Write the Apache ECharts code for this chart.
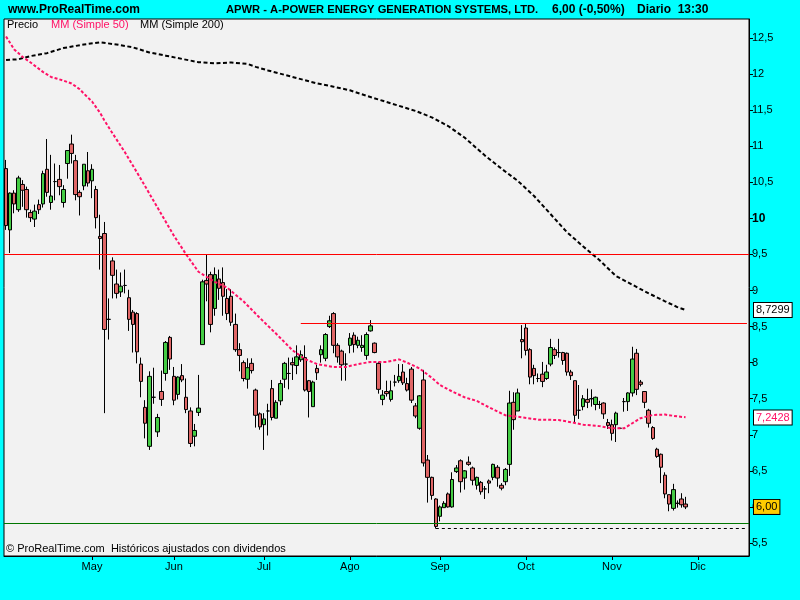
<!DOCTYPE html>
<html><head><meta charset="utf-8">
<script src="https://cdn.jsdelivr.net/npm/echarts@6/dist/echarts.min.js"></script>
<style>html,body{margin:0;padding:0;background:#00ffff;}#c{width:800px;height:600px;}</style>
</head><body><div id="c"></div>
<script>
// ---- data (daily candles, 2010-04-01 .. 2010-11-26) ----
const opens = [
10.69,9.84,10.35,10.12,10.47,10.40,10.08,9.99,10.19,10.20,
10.68,10.22,10.51,10.54,10.22,10.76,11.03,10.80,10.36,10.45,
10.66,10.52,10.40,9.75,9.79,8.60,9.41,9.09,8.98,9.07,
8.90,8.70,8.68,7.98,7.38,6.84,7.52,7.04,7.60,7.85,
8.35,7.81,7.56,7.82,7.52,7.33,6.98,7.31,8.25,9.14,
9.22,8.75,9.16,9.11,8.89,8.92,8.53,8.18,8.00,7.77,
7.99,7.62,7.29,7.14,7.33,7.64,7.23,7.47,7.77,7.85,
8.00,7.96,8.04,8.07,7.75,7.39,7.92,8.11,8.06,8.50,
8.68,8.24,8.16,7.98,8.24,8.38,8.24,8.21,8.10,8.44,
8.27,7.99,7.49,7.60,7.49,7.73,7.75,7.87,7.71,7.91,
7.40,7.09,7.76,6.65,6.41,6.11,5.87,5.99,6.18,6.00,
6.49,6.64,6.40,6.62,6.54,6.30,6.34,6.25,6.36,6.41,
6.55,6.30,6.35,6.59,7.45,7.33,8.32,8.48,8.18,7.92,
7.78,7.84,7.78,7.98,8.18,8.14,8.14,8.13,7.87,7.75,
7.34,7.39,7.49,7.50,7.42,7.42,7.44,7.17,7.14,7.14,
7.09,7.46,7.46,7.58,8.13,7.73,7.60,7.34,7.10,6.80,
6.73,6.44,6.17,5.98,6.05,6.11,6.04];
const closes = [
9.90,10.35,10.20,10.56,10.39,10.12,10.01,10.10,10.12,10.62,
10.36,10.31,10.51,10.44,10.40,10.94,10.90,10.33,10.30,10.75,
10.49,10.68,10.01,9.72,8.46,8.60,9.21,8.96,9.06,9.07,
8.60,8.53,8.15,7.74,7.16,7.81,7.52,7.24,7.49,8.28,
8.05,7.48,7.80,7.76,7.35,6.88,7.06,7.37,9.12,9.09,
8.53,9.22,9.03,8.92,8.68,8.56,8.18,8.10,7.78,7.93,
7.89,7.27,7.11,7.22,7.33,7.24,7.45,7.71,7.99,7.85,
7.97,8.08,8.11,7.62,7.60,7.73,7.86,8.18,8.39,8.58,
8.24,8.08,7.97,7.98,8.34,8.25,8.31,8.24,8.39,8.51,
8.14,7.63,7.55,7.57,7.61,7.73,7.81,7.72,7.62,7.48,
7.26,7.54,6.61,6.41,6.16,5.73,6.00,6.05,6.00,6.38,
6.54,6.35,6.50,6.59,6.37,6.41,6.21,6.25,6.33,6.59,
6.40,6.26,6.52,7.44,7.21,7.58,8.29,8.17,7.80,7.82,
7.78,7.74,7.87,8.21,8.10,8.14,8.03,7.87,7.82,7.27,
7.34,7.50,7.45,7.50,7.52,7.42,7.29,7.13,7.02,7.30,
7.09,7.46,7.58,8.05,7.63,7.70,7.45,7.16,6.95,6.70,
6.55,6.18,6.04,6.24,6.05,6.03,6.00];
const lows = [
9.84,9.52,10.07,10.09,10.16,10.01,9.95,9.88,10.06,10.15,
10.30,10.12,10.25,10.32,10.15,10.55,10.76,10.25,10.04,10.39,
10.44,10.28,9.86,9.29,7.30,8.32,8.89,8.89,8.91,8.96,
8.44,8.14,7.99,7.52,6.95,6.79,7.43,6.97,7.40,7.75,
7.90,7.41,7.49,7.73,7.30,6.83,6.84,7.26,8.25,8.85,
8.42,8.65,8.87,8.65,8.59,8.51,8.15,7.88,7.74,7.64,
7.85,7.10,7.07,6.79,6.99,7.20,7.23,7.41,7.65,7.63,
7.76,7.84,8.01,7.60,7.24,7.39,7.76,8.00,8.02,8.48,
8.13,8.00,7.75,7.75,8.13,8.14,8.20,8.15,8.04,8.43,
8.13,7.57,7.41,7.53,7.46,7.67,7.72,7.69,7.60,7.44,
7.23,7.07,6.56,6.06,6.10,5.70,5.80,5.99,5.99,5.99,
6.47,6.20,6.24,6.57,6.30,6.24,6.17,6.11,6.19,6.37,
6.28,6.23,6.30,6.43,7.07,7.33,8.06,8.10,7.70,7.70,
7.73,7.66,7.76,7.95,8.05,8.07,7.97,7.82,7.76,7.16,
7.22,7.34,7.37,7.39,7.34,7.36,7.22,7.08,6.92,6.90,
7.09,7.32,7.33,7.53,7.55,7.67,7.37,7.10,6.93,6.68,
6.33,6.12,5.94,5.95,5.99,5.99,5.97];
const highs = [
10.81,10.36,10.39,10.59,10.53,10.44,10.12,10.19,10.26,10.66,
11.10,10.88,10.76,10.74,10.46,10.94,11.16,10.88,10.39,10.75,
10.92,10.75,10.45,10.05,9.95,8.89,9.46,9.29,9.25,9.29,
9.01,8.73,8.70,8.07,7.48,7.88,7.93,7.29,7.89,8.30,
8.37,7.94,7.81,7.98,7.78,7.38,7.15,7.83,9.15,9.50,
9.26,9.32,9.29,9.32,9.02,9.02,8.68,8.27,8.03,8.06,
8.06,7.64,7.31,7.30,7.43,7.76,7.48,7.76,8.01,8.07,
8.07,8.24,8.17,8.24,7.76,7.75,7.97,8.24,8.41,8.65,
8.70,8.27,8.18,8.13,8.41,8.42,8.36,8.38,8.42,8.59,
8.28,8.01,7.62,7.75,7.75,7.83,7.98,7.98,7.79,7.94,
7.44,7.55,7.90,6.72,6.42,6.12,6.02,6.08,6.20,6.48,
6.58,6.66,6.51,6.70,6.56,6.42,6.36,6.29,6.38,6.60,
6.58,6.33,6.54,7.61,7.59,7.64,8.52,8.54,8.20,7.97,
7.85,8.01,7.97,8.33,8.21,8.33,8.15,8.14,7.90,7.75,
7.69,7.55,7.64,7.63,7.53,7.47,7.45,7.22,7.21,7.32,
7.09,7.51,7.59,8.22,8.19,7.76,7.60,7.36,7.12,6.82,
6.74,6.48,6.17,6.32,6.09,6.19,6.14];

// moving averages: [day index, value]
const ma50 = [[0,12.52],[2,12.34],[4,12.24],[6,12.16],[9,12.03],[11,11.96],[14,11.91],[16,11.87],[18,11.79],[19,11.73],
[21,11.62],[23,11.46],[24,11.36],[26,11.18],[29,10.92],[33,10.54],[37,10.15],[41,9.76],[44,9.50],[47,9.26],[51,9.12],
[54,9.04],[58,8.85],[62,8.62],[66,8.40],[70,8.17],[73,8.05],[76,7.98],[80,7.94],[83,7.94],[86,7.98],[89,8.01],[93,8.01],
[96,8.045],[98,8.00],[101,7.92],[104,7.79],[106,7.69],[109,7.60],[112,7.52],[115,7.47],[118,7.38],[122,7.27],[125,7.25],
[130,7.21],[135,7.205],[138,7.175],[141,7.14],[145,7.12],[148,7.09],[151,7.09],[153,7.16],[155,7.23],[158,7.275],
[161,7.28],[164,7.255],[166,7.2428]];
const ma200 = [[0,12.195],[3,12.205],[6,12.25],[10,12.29],[14,12.36],[19,12.41],[23,12.44],[27,12.41],[31,12.37],[35,12.30],
[39,12.255],[43,12.21],[47,12.165],[51,12.15],[55,12.16],[59,12.14],[61,12.10],[64,12.05],[68,11.99],[72,11.93],[76,11.87],
[80,11.825],[84,11.775],[88,11.70],[92,11.63],[96,11.56],[100,11.49],[104,11.40],[108,11.28],[112,11.12],[117,10.87],
[121,10.69],[125,10.52],[129,10.31],[133,10.06],[137,9.81],[141,9.61],[145,9.42],[149,9.20],[153,9.08],[157,8.96],
[161,8.85],[164,8.77],[166,8.7299]];

const resistanceLevel = 9.5;
const resistance2 = {start: 72, value: 8.55};
const supportLevel = 5.775;
const lowLine = {start: 105, value: 5.70};
const lastLabels = {ma200: '8,7299', ma50: '7,2428', price: '6,00'};
const lastValues = {ma200: 8.7299, ma50: 7.2428, price: 6.00};
const yTicks = [5.5,6,6.5,7,7.5,8,8.5,9,9.5,10,10.5,11,11.5,12,12.5];
const monthNames = ['Ene','Feb','Mar','Abr','May','Jun','Jul','Ago','Sep','Oct','Nov','Dic'];
const holidays = ['2010-04-02','2010-05-31','2010-07-05','2010-09-06','2010-11-25'];
const startDate = '2010-04-01';
const totalSlots = 182;

// ---- trading-day categories ----
const dates = [];
(function(){
  let d = new Date(startDate + 'T12:00:00Z');
  while (dates.length < totalSlots) {
    const wd = d.getUTCDay();
    const s = d.toISOString().slice(0,10);
    if (wd !== 0 && wd !== 6 && holidays.indexOf(s) < 0) dates.push(s);
    d = new Date(d.getTime() + 86400000);
  }
})();
const monthStart = dates.map((s,i) => i > 0 && s.slice(5,7) !== dates[i-1].slice(5,7));

const candles = opens.map((o,i) => [o, closes[i], lows[i], highs[i]]);

const FONT = '"Liberation Sans", Arial, sans-serif';
const chart = echarts.init(document.getElementById('c'), null, {renderer:'canvas'});
const yMax = 12.5 + 19/72.143, yMin = 5.5 - 13/72.143;

function boxLabel(text, color, bg){
  return {show:true, position:'end', distance:5, formatter:text, color:color, backgroundColor:bg,
    borderColor:'#000', borderWidth:1, padding:[2,2,1,2], fontSize:11, fontFamily:FONT, opacity:1};
}
const hiddenLine = {color:'rgba(0,0,0,0)', width:1, type:'solid'};

chart.setOption({
  animation:false,
  backgroundColor:'#00ffff',
  grid:{left:4, right:51, top:19, bottom:44, show:true, backgroundColor:'#f2f2f2', borderColor:'#000', borderWidth:1},
  xAxis:{
    type:'category', data:dates, boundaryGap:true,
    axisLine:{show:true, lineStyle:{color:'#000'}},
    axisTick:{show:true, alignWithLabel:true, length:4, interval:(i)=>monthStart[i], lineStyle:{color:'#000'}},
    axisLabel:{interval:(i)=>monthStart[i], margin:5, color:'#000', fontSize:11, fontFamily:FONT,
      formatter:(v)=>monthNames[parseInt(v.slice(5,7),10)-1]},
    splitLine:{show:false}
  },
  yAxis:{
    type:'value', position:'right', min:yMin, max:yMax,
    splitLine:{show:false},
    axisLine:{show:true, lineStyle:{color:'#000'}},
    axisTick:{show:true, length:4, customValues:yTicks, lineStyle:{color:'#000'}},
    axisLabel:{customValues:yTicks, margin:3, color:'#000', fontSize:11, fontFamily:FONT,
      formatter:(v)=> v === 10 ? '{b|10}' : String(v).replace('.',','),
      rich:{b:{fontWeight:'bold', fontSize:12, fontFamily:FONT, color:'#000'}}}
  },
  series:[
    {
      type:'candlestick', data:candles, barWidth:4, z:2,
      itemStyle:{color:'#44cc44', color0:'#e06666', borderColor:'#000', borderColor0:'#000', borderColorDoji:'#000', borderWidth:1}
    },
    {
      type:'line', data:ma200, symbol:'none', z:3, silent:true,
      lineStyle:{color:'#000', width:2, type:[4,2.5]},
      markLine:{
        symbol:'none', silent:true, animation:false,
        data:[
          {yAxis:resistanceLevel, lineStyle:{color:'#ff0000', width:1, type:'solid'}, label:{show:false}},
          [{coord:[resistance2.start, resistance2.value], lineStyle:{color:'#ff0000', width:1, type:'solid'}, label:{show:false}},
           {coord:[totalSlots-1, resistance2.value]}],
          {yAxis:supportLevel, lineStyle:{color:'#007700', width:1, type:'solid'}, label:{show:false}},
          [{coord:[lowLine.start, lowLine.value], lineStyle:{color:'#000', width:1, type:[3,3]}, label:{show:false}},
           {coord:[totalSlots-1, lowLine.value]}],
          {yAxis:lastValues.ma200, lineStyle:hiddenLine, label:boxLabel(lastLabels.ma200,'#000','#fff')},
          {yAxis:lastValues.ma50, lineStyle:hiddenLine, label:boxLabel(lastLabels.ma50,'#ff1166','#fff')},
          {yAxis:lastValues.price, lineStyle:hiddenLine, label:boxLabel(lastLabels.price,'#000','#ffcc00')}
        ]
      }
    },
    {
      type:'line', data:ma50, symbol:'none', z:3, silent:true,
      lineStyle:{color:'#ff1166', width:2, type:[3,2]}
    }
  ],
  graphic:[
    {type:'text', x:8, y:10, style:{text:'www.ProRealTime.com', fill:'#000', font:'bold 12px '+FONT, verticalAlign:'middle'}},
    {type:'text', x:226, y:10, style:{text:'APWR - A-POWER ENERGY GENERATION SYSTEMS, LTD.', fill:'#000', font:'bold 11.2px '+FONT, verticalAlign:'middle'}},
    {type:'text', x:552, y:10, style:{text:'6,00 (-0,50%)', fill:'#000', font:'bold 12px '+FONT, verticalAlign:'middle'}},
    {type:'text', x:637, y:10, style:{text:'Diario  13:30', fill:'#000', font:'bold 12px '+FONT, verticalAlign:'middle'}},
    {type:'text', x:7, y:25, z:10, style:{text:'Precio', fill:'#000', font:'11px '+FONT, verticalAlign:'middle'}},
    {type:'text', x:51, y:25, z:10, style:{text:'MM (Simple 50)', fill:'#ff1166', font:'11px '+FONT, verticalAlign:'middle'}},
    {type:'text', x:140, y:25, z:10, style:{text:'MM (Simple 200)', fill:'#000', font:'11px '+FONT, verticalAlign:'middle'}},
    {type:'text', x:6, y:549, z:10, style:{text:'© ProRealTime.com  Históricos ajustados con dividendos', fill:'#000', font:'11px '+FONT, verticalAlign:'middle'}}
  ]
});
</script></body></html>
